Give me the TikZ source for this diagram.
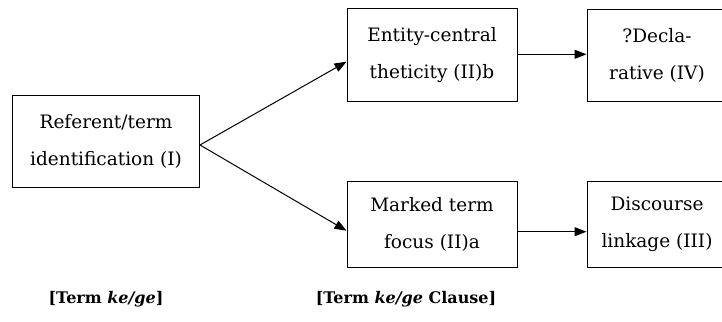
\documentclass[tikz,border=0pt]{standalone}
\usepackage{fontspec}
\setmainfont{DejaVu Serif}
\usetikzlibrary{arrows.meta,calc}
\tikzset{
  box/.style={draw=black, line width=1pt, rectangle, align=center, inner sep=0pt,
    font=\fontsize{18.5}{37}\selectfont},
  arr/.style={line width=1pt, -{Triangle[length=12pt,width=9pt]}},
  lab/.style={anchor=base, inner sep=0pt, font=\fontsize{16}{20}\selectfont\bfseries}
}
\begin{document}
\begin{tikzpicture}[x=1pt,y=-1pt]
\useasboundingbox (0,0) rectangle (722,321);
\clip (0,0) rectangle (722,321);
\node[box, minimum width=187pt, minimum height=92pt] (b1) at (106,141) {Referent/term\\identification (I)};
\node[box, minimum width=170pt, minimum height=92pt] (t1) at (432,55) {Entity-central\\theticity (II)b};
\node[box, minimum width=140pt, minimum height=91pt] (t2) at (657,55.5) {?Decla-\\rative (IV)};
\node[box, minimum width=170pt, minimum height=86pt] (u1) at (432,224) {Marked term\\focus (II)a};
\node[box, minimum width=140pt, minimum height=86pt] (u2) at (657,224) {Discourse\\linkage (III)};
\draw[arr] ([yshift=-4pt]b1.east) -- ([yshift=-6.7pt]t1.west);
\draw[arr] ([yshift=-4pt]b1.east) -- ([yshift=-6.7pt]u1.west);
\draw[arr] ([yshift=0.7pt]t1.east) -- ([yshift=0.7pt]t1.east -| t2.west);
\draw[arr] ([yshift=-7.7pt]u1.east) -- ([yshift=-7.7pt]u1.east -| u2.west);
\node[lab] (l1) at (106,303) {[Term \textit{ke/ge}]};
\node[lab] (l2) at (406,303) {[Term \textit{ke/ge} Clause]};
\end{tikzpicture}
\end{document}
